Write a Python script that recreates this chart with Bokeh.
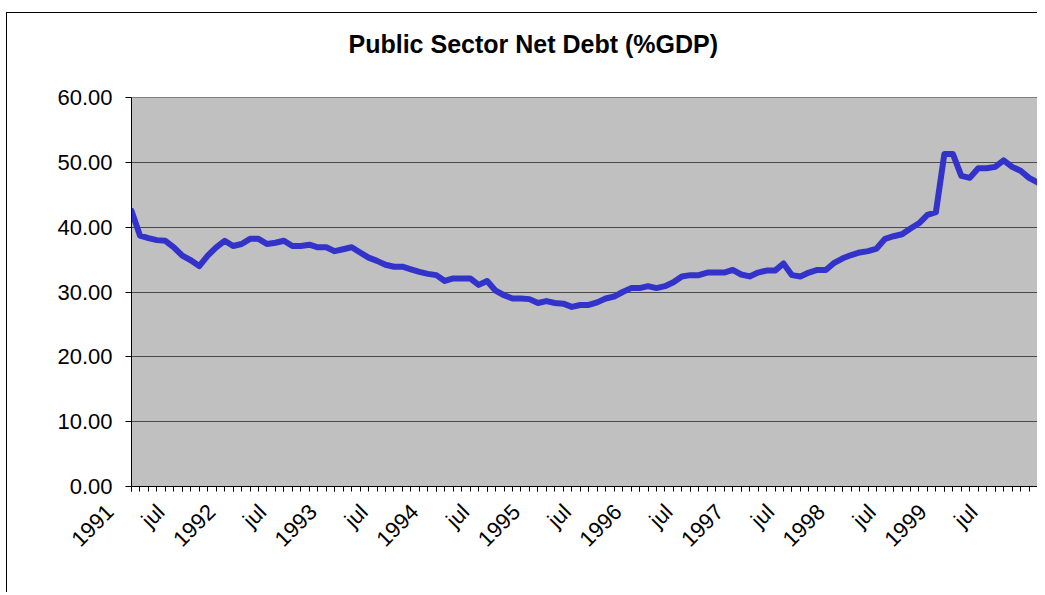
from bokeh.plotting import figure
from bokeh.models import Range1d, FixedTicker, NumeralTickFormatter
from bokeh.embed import file_html
from bokeh.resources import INLINE
from math import pi

# Monthly Public Sector Net Debt (% GDP), Jan 1991 - Dec 1999
debt = [
    42.5, 38.7, 38.3, 38.0, 37.9, 36.9, 35.6, 34.9, 34.0, 35.6, 36.9, 37.9,   # 1991
    37.1, 37.4, 38.2, 38.2, 37.4, 37.6, 37.9, 37.1, 37.1, 37.3, 36.9, 36.9,   # 1992
    36.3, 36.6, 36.9, 36.1, 35.3, 34.8, 34.2, 33.9, 33.9, 33.5, 33.1, 32.8,   # 1993
    32.6, 31.7, 32.1, 32.1, 32.1, 31.1, 31.7, 30.2, 29.5, 29.0, 29.0, 28.9,   # 1994
    28.3, 28.6, 28.3, 28.2, 27.7, 28.0, 28.0, 28.4, 29.0, 29.3, 30.0, 30.6,   # 1995
    30.6, 30.9, 30.6, 30.9, 31.5, 32.4, 32.6, 32.6, 33.0, 33.0, 33.0, 33.4,   # 1996
    32.7, 32.4, 33.0, 33.3, 33.3, 34.4, 32.6, 32.4, 33.0, 33.4, 33.4, 34.5,   # 1997
    35.2, 35.7, 36.1, 36.3, 36.7, 38.2, 38.6, 38.9, 39.8, 40.6, 41.9, 42.3,   # 1998
    51.3, 51.3, 47.9, 47.6, 49.1, 49.1, 49.3, 50.3, 49.3, 48.7, 47.6, 46.9,   # 1999
]
months = list(range(len(debt)))

label_positions = [0, 6, 12, 18, 24, 30, 36, 42, 48, 54, 60, 66, 72, 78, 84, 90, 96, 102]
tick_labels = ["1991", "jul", "1992", "jul", "1993", "jul", "1994", "jul", "1995", "jul",
               "1996", "jul", "1997", "jul", "1998", "jul", "1999", "jul"]
y_ticks = [0, 10, 20, 30, 40, 50, 60]

FONT = "Liberation Sans"
PAD = "\u00a0" * 5  # pushes rotated labels down-left of their tick, as in the original

p = figure(width=1031, height=580, output_backend="svg", toolbar_location=None,
           x_range=Range1d(0, len(debt) - 1), y_range=Range1d(0, 60),
           min_border_left=124, min_border_right=1, min_border_top=84, min_border_bottom=107)
p.margin = (12, 0, 0, 6)
p.styles = {"border-left": "1px solid black", "border-top": "1px solid black"}

p.border_fill_color = "white"
p.background_fill_color = "#C0C0C0"
p.outline_line_color = "#808080"
p.outline_line_width = 1

p.title.text = "Public Sector Net Debt   (%GDP)"
p.title.align = "left"
p.title.offset = 217
p.title.text_font = FONT
p.title.text_font_size = "25px"
p.title.text_font_style = "bold"
p.title.text_color = "black"
p.title.vertical_align = "bottom"
p.title.standoff = 0
p.title.padding = dict(left=0, right=0, top=0, bottom=40)

p.line(months, debt, line_color="#3333CC", line_width=6, line_join="round", line_cap="round")

# grid
p.xgrid.visible = False
p.ygrid.ticker = FixedTicker(ticks=y_ticks[1:])
p.ygrid.grid_line_color = "#4a4a4a"
p.ygrid.grid_line_width = 1

# y axis
p.yaxis.ticker = FixedTicker(ticks=y_ticks)
p.yaxis.formatter = NumeralTickFormatter(format="0.00")
p.yaxis.axis_line_color = "black"
p.yaxis.major_tick_line_color = "black"
p.yaxis.major_tick_out = 6
p.yaxis.major_tick_in = 0
p.yaxis.minor_tick_line_color = None
p.yaxis.major_label_text_font = FONT
p.yaxis.major_label_text_font_size = "22px"
p.yaxis.major_label_text_color = "black"
p.yaxis.major_label_standoff = 13

# x axis
p.xaxis.ticker = FixedTicker(ticks=label_positions, minor_ticks=months)
p.xaxis.major_label_overrides = {pos: lab + PAD for pos, lab in zip(label_positions, tick_labels)}
p.xaxis.axis_line_color = "black"
p.xaxis.major_tick_line_color = "black"
p.xaxis.minor_tick_line_color = "black"
p.xaxis.major_tick_out = 5
p.xaxis.major_tick_in = 0
p.xaxis.minor_tick_out = 5
p.xaxis.minor_tick_in = 0
p.xaxis.major_label_orientation = pi / 4
p.xaxis.major_label_text_font = FONT
p.xaxis.major_label_text_font_size = "22px"
p.xaxis.major_label_text_color = "black"
p.xaxis.major_label_standoff = -5

open("out.html", "w").write(file_html(p, INLINE))
